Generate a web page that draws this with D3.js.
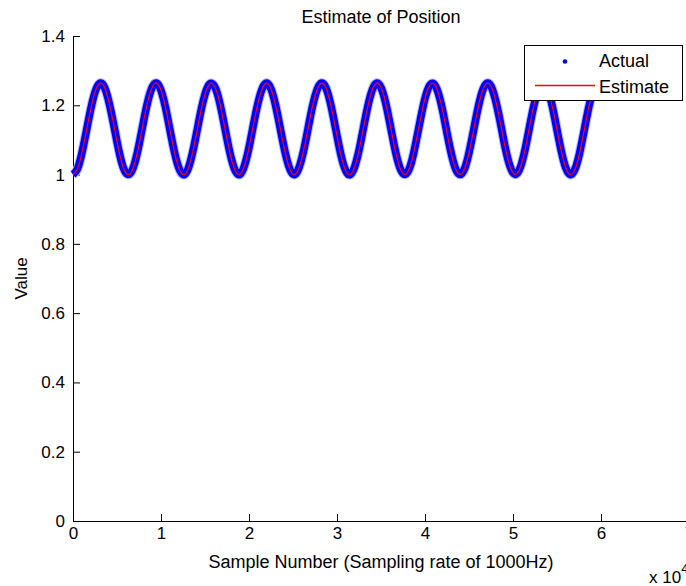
<!DOCTYPE html>
<html>
<head>
<meta charset="utf-8">
<style>
  body { margin: 0; background: #fff; }
  text { font-family: "Liberation Sans", Arial, sans-serif; fill: #000; }
</style>
</head>
<body>
<script src="https://cdn.jsdelivr.net/npm/d3@7"></script>
<div id="chart"></div>
<script>
// sample numbers (every 500 samples, 0 .. 60000)
var sampleStep = 500;
// position, one value per sample above
var actual = [
  1.000, 1.016, 1.061, 1.123, 1.187, 1.238, 1.263, 1.256, 1.218, 1.160, 1.095, 1.038, 1.005,
  1.003, 1.032, 1.086, 1.151, 1.211, 1.252, 1.264, 1.243, 1.195, 1.131, 1.068, 1.021,
  1.000, 1.012, 1.054, 1.114, 1.179, 1.232, 1.261, 1.258, 1.225, 1.168, 1.103, 1.045, 1.008,
  1.001, 1.027, 1.078, 1.143, 1.204, 1.248, 1.264, 1.247, 1.202, 1.140, 1.076, 1.026,
  1.001, 1.009, 1.047, 1.105, 1.171, 1.226, 1.259, 1.261, 1.231, 1.177, 1.112, 1.051, 1.011,
  1.000, 1.022, 1.070, 1.134, 1.197, 1.244, 1.264, 1.251, 1.210, 1.149, 1.084, 1.031, 1.003,
  1.006, 1.040, 1.097, 1.162, 1.220, 1.256, 1.262, 1.236, 1.185, 1.120, 1.059, 1.015,
  1.000, 1.017, 1.063, 1.125, 1.189, 1.239, 1.263, 1.255, 1.216, 1.158, 1.092, 1.037, 1.005,
  1.004, 1.034, 1.088, 1.154, 1.213, 1.253, 1.263, 1.241, 1.193, 1.129, 1.066, 1.019,
  1.000, 1.013, 1.055, 1.116, 1.181, 1.234, 1.262, 1.258
];
// the estimate sits right on top of the actual trace
var estimate = [
  1.000, 1.016, 1.061, 1.123, 1.187, 1.238, 1.263, 1.256, 1.218, 1.160, 1.095, 1.038, 1.005,
  1.003, 1.032, 1.086, 1.151, 1.211, 1.252, 1.264, 1.243, 1.195, 1.131, 1.068, 1.021,
  1.000, 1.012, 1.054, 1.114, 1.179, 1.232, 1.261, 1.258, 1.225, 1.168, 1.103, 1.045, 1.008,
  1.001, 1.027, 1.078, 1.143, 1.204, 1.248, 1.264, 1.247, 1.202, 1.140, 1.076, 1.026,
  1.001, 1.009, 1.047, 1.105, 1.171, 1.226, 1.259, 1.261, 1.231, 1.177, 1.112, 1.051, 1.011,
  1.000, 1.022, 1.070, 1.134, 1.197, 1.244, 1.264, 1.251, 1.210, 1.149, 1.084, 1.031, 1.003,
  1.006, 1.040, 1.097, 1.162, 1.220, 1.256, 1.262, 1.236, 1.185, 1.120, 1.059, 1.015,
  1.000, 1.017, 1.063, 1.125, 1.189, 1.239, 1.263, 1.255, 1.216, 1.158, 1.092, 1.037, 1.005,
  1.004, 1.034, 1.088, 1.154, 1.213, 1.253, 1.263, 1.241, 1.193, 1.129, 1.066, 1.019,
  1.000, 1.013, 1.055, 1.116, 1.181, 1.234, 1.262, 1.258
];

var xTicks = [0, 10000, 20000, 30000, 40000, 50000, 60000, 70000];
var xTickLabels = ["0", "1", "2", "3", "4", "5", "6", "7"];
var yTicks = [0, 0.2, 0.4, 0.6, 0.8, 1, 1.2, 1.4];
var yTickLabels = ["0", "0.2", "0.4", "0.6", "0.8", "1", "1.2", "1.4"];
var seriesNames = ["Actual", "Estimate"];

var W = 686, H = 586;
var margin = {top: 36, left: 73, bottom: 65};

var svg = d3.select("#chart").append("svg")
  .attr("width", W).attr("height", H);

var x = d3.scaleLinear().domain([0, 70000]).range([margin.left, margin.left + 616]);
var y = d3.scaleLinear().domain([0, 1.4]).range([H - margin.bottom, margin.top]);

// axes, ticks pointing inward like matlab
var xAxis = d3.axisBottom(x)
  .tickValues(xTicks)
  .tickFormat(function(d, i) { return xTickLabels[i]; })
  .tickSizeInner(-7).tickSizeOuter(0).tickPadding(6);
var gx = svg.append("g")
  .attr("transform", "translate(0," + y(0) + ")")
  .call(xAxis);

var yAxis = d3.axisLeft(y)
  .tickValues(yTicks)
  .tickFormat(function(d, i) { return yTickLabels[i]; })
  .tickSizeInner(-7).tickSizeOuter(0).tickPadding(8);
var gy = svg.append("g")
  .attr("transform", "translate(" + x(0) + ",0)")
  .call(yAxis);

svg.selectAll(".tick text").style("font-size", "17px");
svg.selectAll(".domain, .tick line").attr("stroke", "#000");

// data
var pts = actual.map(function(v, i) { return [i * sampleStep, v]; });
var est = estimate.map(function(v, i) { return [i * sampleStep, v]; });

var line = d3.line()
  .x(function(d) { return x(d[0]); })
  .y(function(d) { return y(d[1]); })
  .curve(d3.curveNatural);

// the "Actual" dots are so dense they merge into a thick blue band
svg.append("path").datum(pts)
  .attr("d", line)
  .attr("fill", "none")
  .attr("stroke", "#b4b4ff")
  .attr("stroke-width", 9.5)
  .attr("stroke-linejoin", "round");
svg.append("path").datum(pts)
  .attr("d", line)
  .attr("fill", "none")
  .attr("stroke", "#0000ff")
  .attr("stroke-width", 7.5)
  .attr("stroke-linejoin", "round");

svg.append("path").datum(est)
  .attr("d", line)
  .attr("fill", "none")
  .attr("stroke", "#ff0000")
  .attr("stroke-width", 1.2);

// legend
var lg = svg.append("g");
lg.append("rect")
  .attr("x", 524.5).attr("y", 45.5)
  .attr("width", 158).attr("height", 55)
  .attr("fill", "#fff").attr("stroke", "#000");
lg.append("circle")
  .attr("cx", 565).attr("cy", 61.5).attr("r", 2.3)
  .attr("fill", "#0000ff");
lg.append("line")
  .attr("x1", 535).attr("x2", 595)
  .attr("y1", 85.5).attr("y2", 85.5)
  .attr("stroke", "#ff0000")
  .attr("stroke-width", 1.3);
lg.selectAll("text.leg").data(seriesNames).enter().append("text")
  .attr("class", "leg")
  .attr("x", 599)
  .attr("y", function(d, i) { return 67 + i * 26; })
  .style("font-size", "18px")
  .text(function(d) { return d; });

// titles
svg.append("text")
  .attr("x", x(35000)).attr("y", 23)
  .attr("text-anchor", "middle")
  .style("font-size", "18px")
  .text("Estimate of Position");

svg.append("text")
  .attr("x", x(35000)).attr("y", 568)
  .attr("text-anchor", "middle")
  .style("font-size", "18px")
  .text("Sample Number (Sampling rate of 1000Hz)");

svg.append("text")
  .attr("transform", "translate(27," + y(0.7) + ") rotate(-90)")
  .attr("text-anchor", "middle")
  .style("font-size", "17px")
  .text("Value");

// exponent label under the x axis
var ex = svg.append("text")
  .attr("x", 649).attr("y", 583)
  .style("font-size", "17px");
ex.append("tspan").text("x 10");
ex.append("tspan").attr("dy", -10).style("font-size", "13px").text("4");
</script>
</body>
</html>
